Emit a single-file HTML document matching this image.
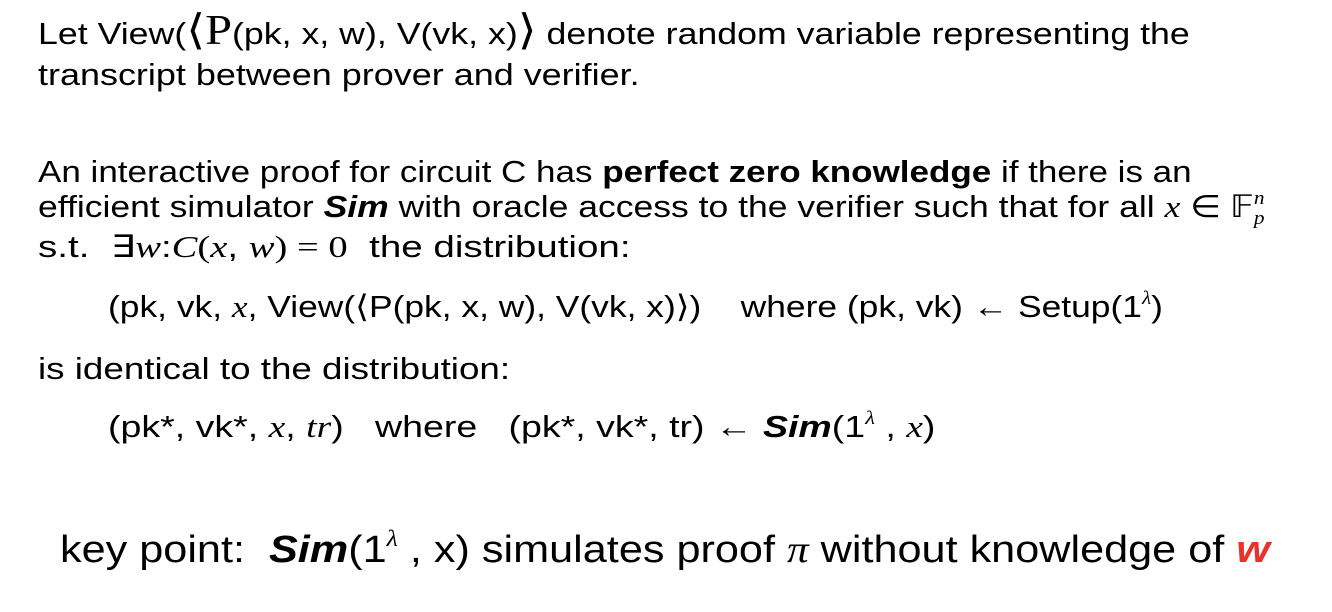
<!DOCTYPE html>
<html><head><meta charset="utf-8"><style>
body{margin:0;width:1332px;height:612px;background:#fff;overflow:hidden;position:relative;font-family:"Liberation Sans",sans-serif;color:#000}
.l{position:absolute;white-space:nowrap;font-size:31px;line-height:36px;transform-origin:0 0}
.m{font-family:"Liberation Serif",serif;font-style:italic}
.s{font-family:"Liberation Serif",serif}
sup{font-size:0.6em;line-height:0;vertical-align:0.7em}
.big{font-family:"Liberation Serif",serif;font-size:42px;line-height:0}
.k{font-size:38px;line-height:44px}
</style></head><body>
<div class="l" id="a0" style="left:38px;top:16px">Let View(<span class="big">⟨P</span>(pk, x, w), V(vk, x)<span class="big">⟩</span> denote random variable representing the</div>
<div class="l" id="a1" style="left:38px;top:57px">transcript between prover and verifier.</div>
<div class="l" id="a2" style="left:38px;top:154px">An interactive proof for circuit C has <b>perfect zero knowledge</b> if there is an</div>
<div class="l" id="a3" style="left:38px;top:189px">efficient simulator <b><i>Sim</i></b> with oracle access to the verifier such that for all <span class="m">x</span> <span class="s">∈ 𝔽<sub style="font-size:0.6em;font-style:italic">p</sub><sup style="font-style:italic;margin-left:-0.5em">n</sup></span></div>
<div class="l" id="a4" style="left:38px;top:229px">s.t.&nbsp; <span class="s">∃</span><span class="m">w</span>:<span class="m">C</span><span class="s">(</span><span class="m">x</span>, <span class="m">w</span><span class="s">) = 0</span>&nbsp; the distribution:</div>
<div class="l" id="a5" style="left:108px;top:289px">(pk, vk, <span class="m">x</span>, View(⟨P(pk, x, w), V(vk, x)⟩)&nbsp;&nbsp;&nbsp; where (pk, vk) ← Setup(1<sup class="m">λ</sup>)</div>
<div class="l" id="a6" style="left:38px;top:351px">is identical to the distribution:</div>
<div class="l" id="a7" style="left:108px;top:409px">(pk*, vk*, <span class="m">x</span>, <span class="m">tr</span>)&nbsp;&nbsp; where&nbsp;&nbsp; (pk*, vk*, tr) ← <b><i>Sim</i></b>(1<sup class="m">λ</sup> , <span class="m">x</span>)</div>
<div class="l k" id="a8" style="left:60px;top:528px">key point:&nbsp; <b><i>Sim</i></b>(1<sup class="m">λ</sup> , x) simulates proof <span class="m">π</span> without knowledge of <b><i style="color:#e8322a">w</i></b></div>
<script>
var W=[1152,602,1154,1227,592,1055,472,827,1210];
for(var i=0;i<W.length;i++){var e=document.getElementById('a'+i);var w=e.scrollWidth;if(w>0)e.style.transform='scaleX('+(W[i]/w)+')';}
</script>
</body></html>
